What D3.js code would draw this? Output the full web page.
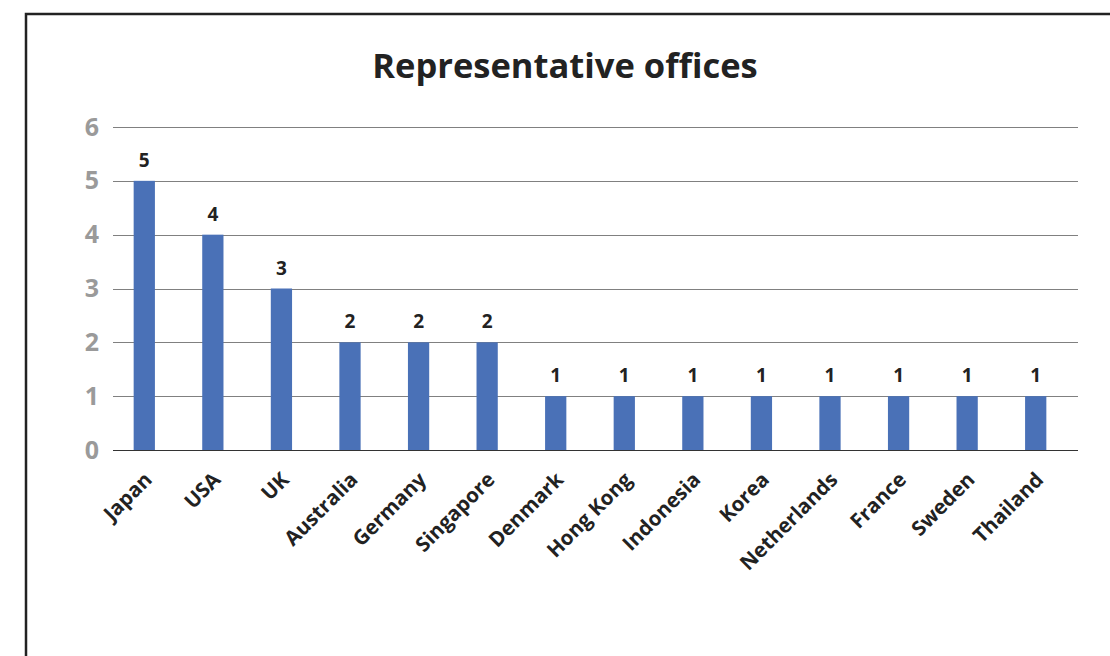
<!DOCTYPE html>
<html><head><meta charset="utf-8">
<script src="https://cdn.jsdelivr.net/npm/d3@7"></script>
<style>body{margin:0;background:#fff;} svg{display:block;}</style>
</head><body>
<svg id="chart" width="1110" height="656"></svg>
<script>
const categories = ["Japan","USA","UK","Australia","Germany","Singapore","Denmark","Hong Kong","Indonesia","Korea","Netherlands","France","Sweden","Thailand"];
const values = [5,4,3,2,2,2,1,1,1,1,1,1,1,1];
const yTicks = [0,1,2,3,4,5,6];
const title = "Representative offices";

const svg = d3.select("#chart");
const font = "'Open Sans', 'Noto Sans', sans-serif";

// frame
svg.append("rect").attr("x",26).attr("y",14).attr("width",1120).attr("height",700)
  .attr("fill","none").attr("stroke","#222").attr("stroke-width",2.5);

const y = d3.scaleLinear().domain([0,6]).range([450,127]);
const x = d3.scaleBand().domain(categories).range([110,1070]).paddingInner(0.69).paddingOuter(0.345);
const gx0 = 113, gx1 = 1078;

// gridlines
svg.append("g").selectAll("line").data(yTicks).join("line")
  .attr("x1",gx0).attr("x2",gx1)
  .attr("y1",d=>Math.round(y(d))+0.5).attr("y2",d=>Math.round(y(d))+0.5)
  .attr("stroke",d=>d===0?"#333":"#808080").attr("stroke-width",1.2);

// y axis labels
const yAxis = d3.axisLeft(y).tickValues(yTicks).tickFormat(d3.format("d")).tickSize(0).tickPadding(0);
const ya = svg.append("g").attr("transform","translate(99,0)").call(yAxis);
ya.select(".domain").remove();
ya.selectAll("text").attr("font-family",font).attr("font-weight","bold")
  .attr("font-size",25).attr("fill","#9a9a9a");

// bars
svg.append("g").selectAll("rect").data(categories).join("rect")
  .attr("x",d=>x(d)).attr("width",x.bandwidth())
  .attr("y",(d,i)=>y(values[i])).attr("height",(d,i)=>y(0)-y(values[i]))
  .attr("fill","#4a71b7");

// value labels
svg.append("g").selectAll("text").data(categories).join("text")
  .attr("x",d=>x(d)+x.bandwidth()/2).attr("y",(d,i)=>y(values[i])-14)
  .attr("text-anchor","middle").attr("font-family",font).attr("font-weight","bold")
  .attr("font-size",19).attr("fill","#222").text((d,i)=>values[i]);

// x axis labels
const xAxis = d3.axisBottom(x).tickSize(0).tickPadding(0);
const xa = svg.append("g").attr("transform","translate(0,450)").call(xAxis);
xa.select(".domain").remove();
xa.selectAll("text")
  .attr("font-family",font).attr("font-weight","bold").attr("font-size",20.5).attr("fill","#222")
  .attr("text-anchor","end").attr("dy",null).attr("y",0)
  .attr("transform","translate(9,31) rotate(-45)");

// title
svg.append("text").attr("x",565).attr("y",78).attr("text-anchor","middle")
  .attr("font-family",font).attr("font-weight","bold").attr("font-size",34.5).attr("fill","#222")
  .text(title);
</script>
</body></html>
